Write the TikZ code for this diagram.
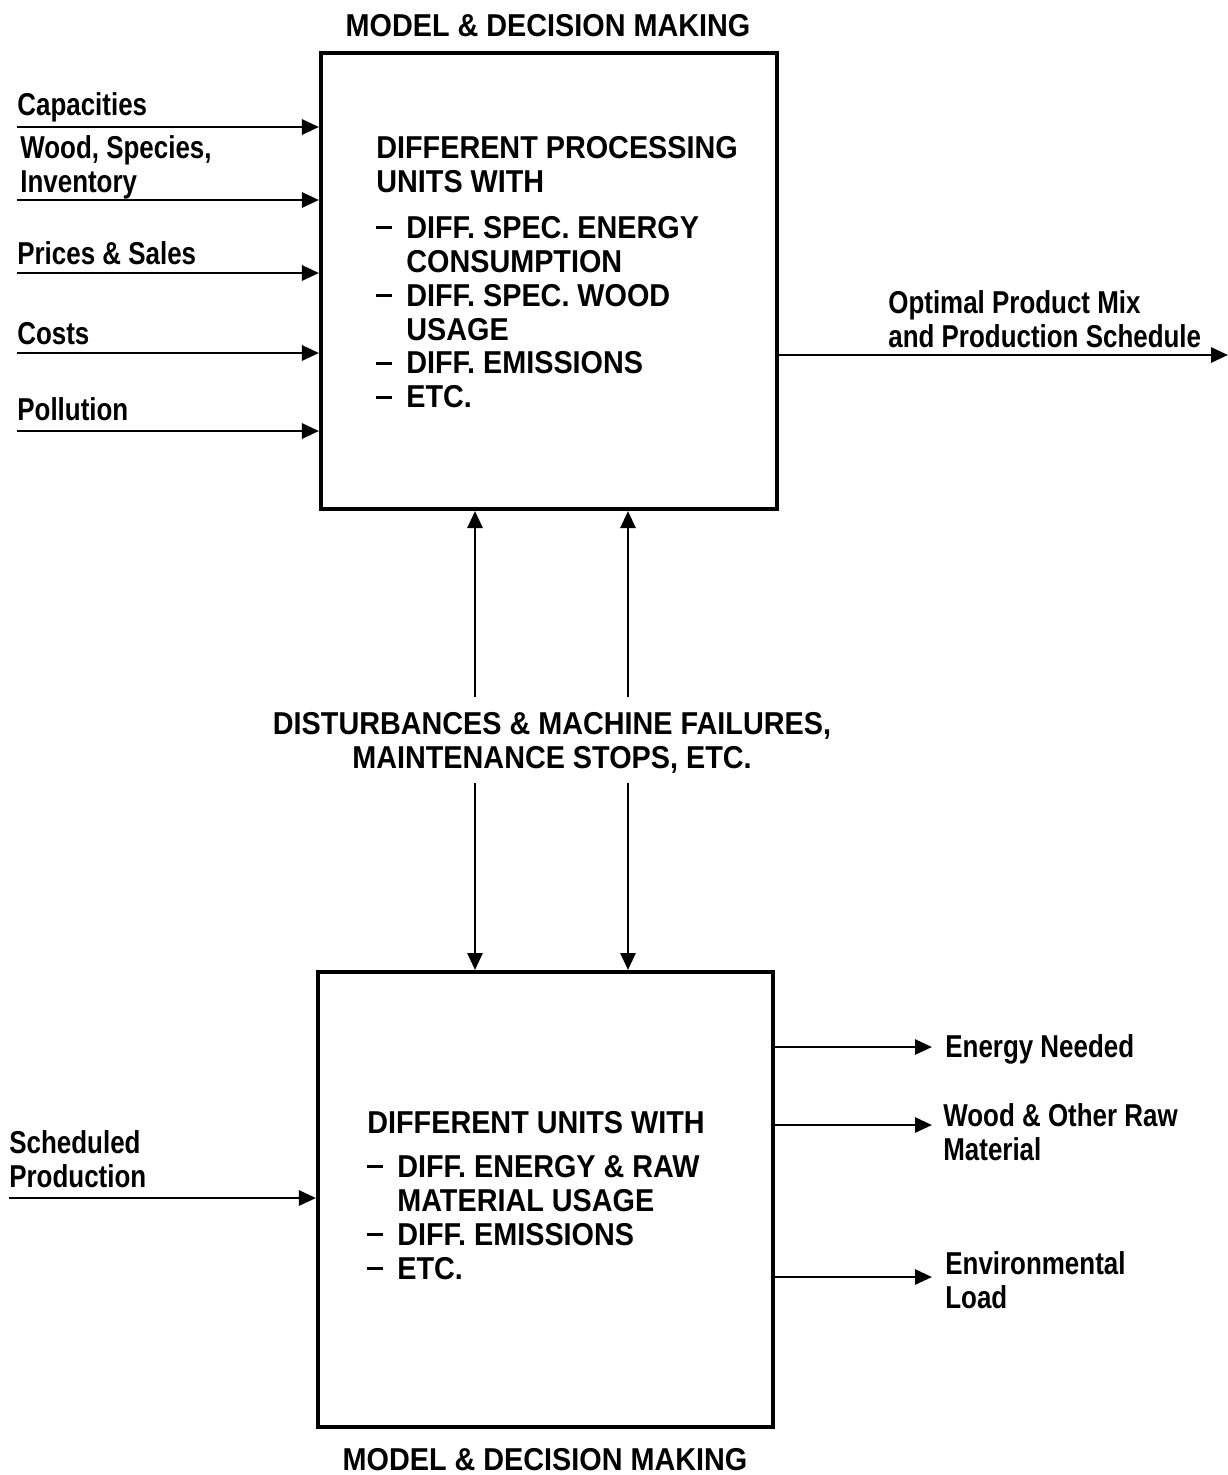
\documentclass[tikz,border=0pt]{standalone}
\usepackage{fontspec}
\setmainfont[FakeStretch=0.82]{Liberation Sans}
\newfontfamily\capsfont[FakeStretch=0.91]{Liberation Sans}
\usetikzlibrary{arrows.meta,positioning}
\newcommand\itm{\makebox[6mm][l]{\rule[1.8mm]{3.2mm}{0.65mm}}}
\newcommand\ind{\hspace*{6mm}}
\begin{document}
\begin{tikzpicture}[x=0.2mm,y=-0.2mm,
    font=\fontsize{18}{19.3}\selectfont\bfseries,
    caps/.style={font=\fontsize{18}{19.3}\selectfont\capsfont\bfseries},
    box/.style={rectangle,draw,line width=0.8mm,minimum width=91.2mm,minimum height=91.2mm,inner sep=0pt},
    lbl/.style={anchor=north west,inner sep=0pt,align=left},
    flow/.style={line width=0.55mm,-{Triangle[length=3.4mm,width=3mm]}}]
  \useasboundingbox (0,0) rectangle (1228,1475);
  % upper model
  \node[caps,anchor=north,inner sep=0pt] (topTitle) at (548,14) {MODEL \& DECISION MAKING};
  \node[box] (top) at (549,281) {};
  \node[caps,lbl] (topText) at (376,136) {DIFFERENT PROCESSING\\UNITS WITH\\[2.4mm]
    \itm DIFF. SPEC. ENERGY\\\ind CONSUMPTION\\\itm DIFF. SPEC. WOOD\\\ind USAGE\\
    \itm DIFF. EMISSIONS\\\itm ETC.};
  % inputs
  \node[lbl] (capacities) at (17,92) {Capacities};
  \node[lbl] (wood) at (20,135) {Wood, Species,\\Inventory};
  \node[lbl] (prices) at (17,241) {Prices \& Sales};
  \node[lbl] (costs) at (17,322) {Costs};
  \node[lbl] (pollution) at (17,397) {Pollution};
  \coordinate (inCap) at (17,127);
  \coordinate (inWood) at (17,200);
  \coordinate (inPrice) at (17,273);
  \coordinate (inCost) at (17,353);
  \coordinate (inPoll) at (17,431);
  \foreach \c in {inCap,inWood,inPrice,inCost,inPoll}
    \draw[flow] (\c) -- (\c -| top.west);
  % output
  \coordinate (outMix) at (1228,355);
  \draw[flow] (outMix -| top.east) -- (outMix);
  \node[lbl] (mix) at (888,290) {Optimal Product Mix\\and Production Schedule};
  % disturbances
  \node[caps,anchor=north,inner sep=0pt,align=center] (dist) at (552,712)
    {DISTURBANCES \& MACHINE FAILURES,\\MAINTENANCE STOPS, ETC.};
  \coordinate (upA) at (475,697);
  \coordinate (upB) at (628,697);
  \coordinate (downA) at (475,783);
  \coordinate (downB) at (628,783);
  % lower model
  \node[box,minimum width=91mm,minimum height=91mm] (bot) at (545.5,1199.5) {};
  \node[caps,lbl] (botText) at (367,1111) {DIFFERENT UNITS WITH\\[2mm]
    \itm DIFF. ENERGY \& RAW\\\ind MATERIAL USAGE\\\itm DIFF. EMISSIONS\\\itm ETC.};
  \node[caps,anchor=north,inner sep=0pt] (botTitle) at (545,1448) {MODEL \& DECISION MAKING};
  \draw[flow] (upA) -- (upA |- top.south);
  \draw[flow] (upB) -- (upB |- top.south);
  \draw[flow] (downA) -- (downA |- bot.north);
  \draw[flow] (downB) -- (downB |- bot.north);
  % lower inputs and outputs
  \node[lbl] (sched) at (9,1130) {Scheduled\\Production};
  \coordinate (inSched) at (9,1198);
  \draw[flow] (inSched) -- (inSched -| bot.west);
  \coordinate (outEnergy) at (932,1047);
  \coordinate (outWood) at (932,1125);
  \coordinate (outEnv) at (932,1277);
  \foreach \c in {outEnergy,outWood,outEnv}
    \draw[flow] (\c -| bot.east) -- (\c);
  \node[lbl] (energy) at (945,1034) {Energy Needed};
  \node[lbl] (rawMat) at (943,1103) {Wood \& Other Raw\\Material};
  \node[lbl] (envLoad) at (945,1251) {Environmental\\Load};
\end{tikzpicture}
\end{document}
